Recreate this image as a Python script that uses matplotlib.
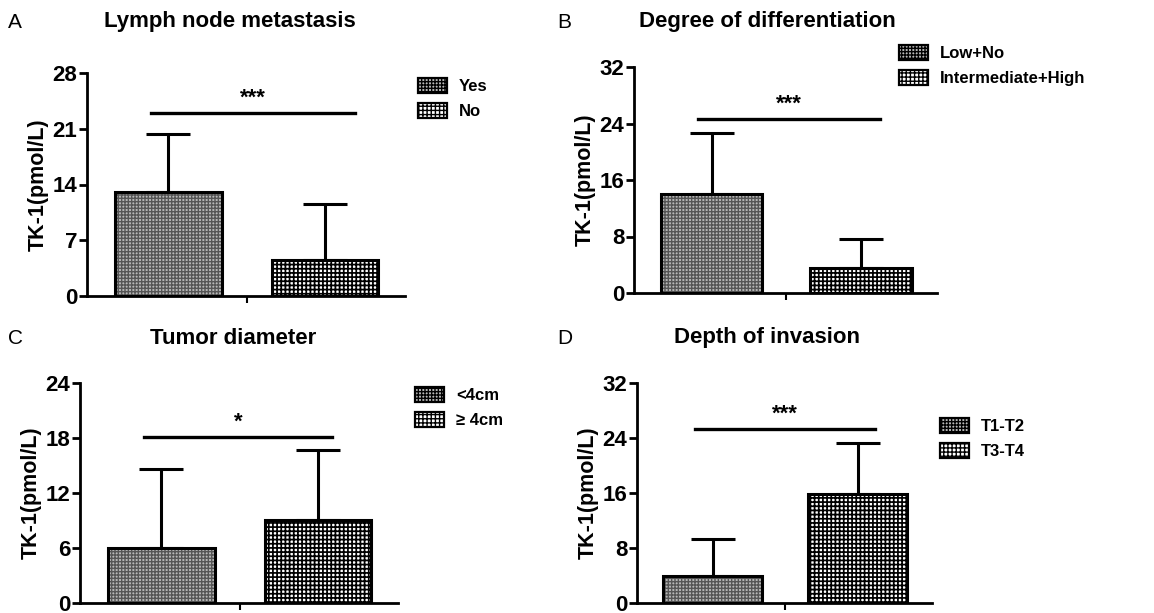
import matplotlib
matplotlib.use("Agg")
import matplotlib.pyplot as plt
from matplotlib.patches import Patch

plt.rcParams['font.family'] = ['Liberation Sans', 'DejaVu Sans']

# data (mean, upper SD)
titles = ["Lymph node metastasis", "Degree of differentiation", "Tumor diameter", "Depth of invasion"]
letters = ["A", "B", "C", "D"]
groups = [["Yes", "No"], ["Low+No", "Intermediate+High"], ["<4cm", "≥ 4cm"], ["T1-T2", "T3-T4"]]
means = [[13.0, 4.5], [14.0, 3.5], [6.0, 9.05], [3.9, 15.85]]
sds = [[7.3, 7.05], [8.65, 4.1], [8.6, 7.65], [5.4, 7.45]]
ymax = [28, 32, 24, 32]
ystep = [7, 8, 6, 8]
stars = ["***", "***", "*", "***"]
sig_y = [23.0, 24.6, 18.1, 25.3]
sig_x = [[-0.11, 1.19], [-0.09, 1.13], [-0.11, 1.09], [-0.12, 1.12]]

W, H = 1154, 613
fig = plt.figure(figsize=(W / 100, H / 100), dpi=100)

# axes boxes in pixels: left, right, top, bottom
boxes = [(87, 405, 73, 296), (634, 937, 67, 293), (80, 398, 383, 603), (637, 932, 383, 603)]
leg_pos = [(418, 78), (899, 45), (415, 387), (940, 418)]
title_pos = [(230, 22), (767, 22), (233, 338), (767, 338)]
letter_pos = [(8, 22), (557, 22), (8, 338), (557, 338)]

# (face, hatch colour, hatch, hatch linewidth)
styles = [("#b8b8b8", "#555555", "+++++", 1.0), ("white", "black", "++++", 1.25)]


def make_patch(k, **kw):
    face, hcol, hatch, hlw = styles[k]
    with plt.rc_context({"hatch.linewidth": hlw, "hatch.color": hcol}):
        return Patch(facecolor=face, edgecolor=hcol, hatch=hatch, **kw)


for i in range(4):
    l, r, t, b = boxes[i]
    ax = fig.add_axes([l / W, 1 - b / H, (r - l) / W, (b - t) / H])
    x = [0, 1]
    for k in range(2):
        face, hcol, hatch, hlw = styles[k]
        with plt.rc_context({"hatch.linewidth": hlw, "hatch.color": hcol}):
            ax.bar(x[k], means[i][k], width=0.68, color=face, edgecolor=hcol,
                   hatch=hatch, linewidth=0, zorder=2)
    ax.bar(x, means[i], width=0.68, fill=False, edgecolor="black", linewidth=2.2, zorder=3)
    ax.errorbar(x, means[i], yerr=[[0, 0], sds[i]], fmt="none", ecolor="black",
                elinewidth=2.2, capsize=16, capthick=2.2, zorder=1)
    ax.plot(sig_x[i], [sig_y[i], sig_y[i]], color="black", lw=2.4)
    ax.text((sig_x[i][0] + sig_x[i][1]) / 2, sig_y[i] + ymax[i] * 0.02, stars[i],
            ha="center", va="bottom", fontsize=16, fontweight="bold")
    ax.set_xlim(-0.52, 1.51)
    ax.set_ylim(0, ymax[i])
    ax.set_yticks(range(0, ymax[i] + 1, ystep[i]))
    ax.set_xticks([0.5])
    ax.set_xticklabels([""])
    for s in ["top", "right"]:
        ax.spines[s].set_visible(False)
    for s in ["left", "bottom"]:
        ax.spines[s].set_linewidth(2)
    ax.tick_params(axis="y", width=2, length=6, labelsize=16, pad=1)
    ax.tick_params(axis="x", width=1.5, length=5)
    for lab in ax.get_yticklabels():
        lab.set_fontweight("bold")
    ax.set_ylabel("TK-1(pmol/L)", fontsize=15.5, fontweight="bold", labelpad=3)

    handles = [make_patch(0, linewidth=0), make_patch(1, linewidth=0)]
    lx, ly = leg_pos[i]
    leg = fig.legend(handles, groups[i], loc="upper left", bbox_to_anchor=(lx / W, 1 - ly / H),
                     frameon=False, borderaxespad=0, borderpad=0, handlelength=1.75,
                     handleheight=1.05, handletextpad=0.7, labelspacing=0.5,
                     prop={"weight": "bold", "size": 12})
    for p in leg.get_patches():
        p.set_edgecolor("black")
        p.set_linewidth(1.6)

    tx, ty = title_pos[i]
    fig.text(tx / W, 1 - ty / H, titles[i], ha="center", va="center", fontsize=16, fontweight="bold")
    px, py = letter_pos[i]
    fig.text(px / W, 1 - py / H, letters[i], ha="left", va="center", fontsize=15)

fig.savefig("out.png", dpi=100)
